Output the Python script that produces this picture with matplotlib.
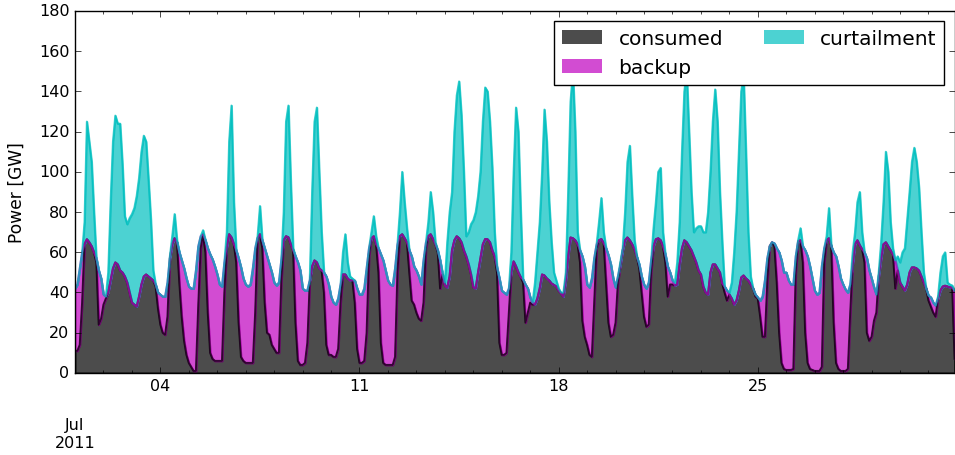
import matplotlib
matplotlib.use("Agg")
import matplotlib.pyplot as plt
import matplotlib.dates as mdates
from matplotlib.patches import Rectangle
from matplotlib.transforms import ScaledTranslation
import numpy as np
import pandas as pd

# 2-hourly values, July 2011 (one row = one day, 00h..22h)
load_gw = [
    42, 44, 52, 60, 64, 66.5, 65, 63, 60, 57, 51, 47,
    39, 38, 40, 46, 52, 55, 54, 51, 50, 48, 45, 40,
    35, 34, 33, 38, 44, 48, 49, 48, 47, 46, 44, 40,
    39, 38, 38, 45, 57, 64, 67, 65, 60, 56, 52, 47,
    43, 42, 42, 51, 63, 68, 69, 66, 62, 59, 56.5, 53,
    49, 44, 43, 55, 62.5, 69, 67.4, 64, 61, 57, 52.5, 47,
    44, 43, 44, 52, 62, 67, 69, 66, 62, 58, 54, 50,
    45, 43.5, 45, 56, 66, 68, 67.5, 64, 61, 58, 55, 51,
    42, 41, 41, 46, 53, 56, 55, 52, 51, 50, 48, 44,
    38, 35, 34, 37, 44, 49, 49, 47, 46, 46, 46, 42,
    39, 39, 42, 52, 62, 67, 68, 64, 62, 59, 56, 51,
    46, 44, 43.5, 52, 64, 68, 69, 67, 65, 61, 58, 53,
    51, 48, 44, 56, 64.8, 68, 69, 66.6, 64, 61, 56, 49,
    43.5, 42.5, 48, 61, 66, 68, 67, 65, 61, 58, 54, 49,
    42.6, 42, 50, 57, 64, 66.6, 66.5, 65, 61, 58, 52.5, 47,
    41, 40, 39, 42, 50, 55.5, 53, 50, 47.6, 46.5, 44, 42,
    37.6, 35, 34, 37, 42, 49, 48.5, 47, 46, 44.5, 43.8, 43,
    41, 39.5, 38, 46, 58, 67.4, 67, 66, 64, 61, 58, 53,
    44, 42.5, 47, 57, 64, 66, 66.6, 64.5, 62, 58.5, 54, 47,
    42.6, 48, 53.5, 61, 66, 67.4, 66, 64, 61.5, 57.5, 54, 48,
    44, 42, 45, 56, 63, 66.5, 67, 66, 63, 59, 53, 50,
    46, 43.5, 44, 54, 62, 66, 65, 63, 61, 58, 55, 51,
    49, 43, 40, 39, 50, 54, 54, 52, 50, 44.5, 43, 41,
    39, 37, 34, 36, 41, 47.5, 48.5, 47, 46, 44, 42, 39,
    37.6, 36, 38, 46, 57, 63, 65, 64.5, 62, 60, 56, 50,
    50, 46, 44, 44, 58, 65.5, 66, 63, 61, 58, 53, 47,
    41, 39, 40, 53, 62, 66, 67, 63, 60, 58, 53, 47,
    44, 41.5, 40, 44, 54, 64, 66, 63.5, 61.5, 60, 57, 51,
    47, 42.6, 39, 48, 57, 64, 65, 63, 61, 59, 56, 51,
    45, 43, 41, 44, 50, 52.5, 52.5, 52, 50.9, 48, 45, 42,
    38.5, 37.6, 35, 33.5, 37, 41, 43, 43.4, 43, 42.6, 42.4, 41,
]

gen_gw = [
    11, 11, 14, 35, 75, 125, 115, 105, 80, 55, 24, 27,
    34, 37, 50, 85, 115, 128, 124, 124, 104, 78, 74, 77,
    79, 82, 88, 97, 110, 118, 115, 96, 76, 51, 43, 32,
    24, 20, 19, 28, 58, 68, 79, 66, 45, 28, 16, 9,
    5, 3, 1, 1, 34, 62, 71, 60, 30, 10, 7, 6,
    6, 6, 6, 40, 70, 115, 133, 85, 55, 25, 8, 6,
    5, 5, 5, 5, 30, 68, 83, 62, 35, 20, 19, 14,
    12, 10, 10, 45, 80, 125, 133, 95, 62, 25, 6, 4,
    4, 5, 15, 45, 90, 125, 132, 100, 70, 40, 14, 9,
    9, 8, 8, 12, 35, 60, 69, 55, 48, 47, 35, 12,
    5, 5, 6, 20, 58, 70, 78, 68, 50, 15, 5, 4,
    4, 4, 4, 8, 50, 80, 100, 85, 72, 50, 36, 34,
    30, 27, 26, 35, 62, 75, 90, 80, 65, 60, 42, 50,
    45, 65, 80, 90, 120, 138, 145, 128, 100, 68, 70, 74,
    76, 80, 88, 100, 125, 142, 140, 125, 102, 70, 50, 15,
    9, 9, 10, 30, 60, 100, 132, 120, 80, 45, 25, 30,
    35, 34, 45, 60, 75, 100, 131, 115, 85, 65, 50, 46,
    42, 40, 40, 50, 90, 135, 150, 120, 70, 55, 26, 18,
    14, 9, 8, 35, 62, 75, 87, 70, 45, 25, 18, 19,
    25, 45, 55, 62, 80, 105, 113, 88, 66, 58, 52, 40,
    28, 23, 24, 50, 72, 85, 100, 102, 70, 55, 38, 44,
    44, 45, 55, 75, 110, 140, 150, 120, 90, 70, 72, 73,
    73, 70, 70, 80, 100, 125, 141, 125, 90, 65, 40, 36,
    40, 45, 60, 80, 110, 140, 148, 110, 70, 48, 42, 38,
    37, 28, 18, 18, 45, 63, 65, 63, 45, 20, 5, 2,
    1.5, 1.5, 1.5, 2, 50, 66, 72, 55, 20, 5, 2, 1.5,
    1, 1, 1, 3, 55, 68, 82, 63, 25, 5, 2, 1,
    1, 1, 2, 30, 60, 70, 85, 90, 70, 55, 20, 16,
    18, 26, 30, 50, 65, 85, 110, 100, 75, 62, 42, 58,
    55, 60, 62, 76, 90, 105, 112, 105, 92, 70, 50, 42,
    36, 33, 30, 28, 38, 50, 58, 60, 45, 44, 43.5, 7,
]

week_ticks = ["2011-07-04", "2011-07-11", "2011-07-18", "2011-07-25"]
week_labels = ["04", "11", "18", "25"]
series_names = ["consumed", "backup", "curtailment"]
series_colors = ["k", "m", "c"]

t = pd.date_range("2011-07-01", periods=len(load_gw), freq="2h")
load = np.array(load_gw, dtype=float)
gen = np.array(gen_gw, dtype=float)

consumed = np.minimum(gen, load)
backup = load - consumed
curtailment = np.maximum(gen - load, 0)

plt.style.use("classic")
plt.rcParams["font.family"] = "DejaVu Sans"

fig = plt.figure(figsize=(9.55, 4.56), dpi=100, facecolor="white")
ax = fig.add_axes([0.0785, 0.18, 0.921, 0.7937])

# stacked areas, drawn the way pandas does it (line, then filled polygon with edge)
a = 0.7
lw = 1.4
bottom = np.zeros_like(load)
for vals, col in zip([consumed, backup, curtailment], series_colors):
    top = bottom + vals
    ax.plot(t, top, color=col, alpha=a, lw=lw)
    ax.fill_between(t, bottom, top, color=col, alpha=a, lw=lw)
    bottom = top

ax.set_xlim(t[0], t[-1])
ax.set_ylim(0, 180)
ax.set_yticks(np.arange(0, 181, 20))
ax.set_ylabel("Power [GW]", fontsize=12.3)
ax.yaxis.set_label_coords(-0.0557, 0.5)

ax.set_xticks([pd.Timestamp("2011-07-01")] + [pd.Timestamp(d) for d in week_ticks])
ax.set_xticklabels(["\n\nJul\n2011"] + week_labels)
ax.xaxis.set_minor_locator(mdates.DayLocator())
ax.tick_params(labelsize=11.5)
lab = ax.get_xticklabels()[0]
lab.set_transform(lab.get_transform() + ScaledTranslation(0, -0.04, fig.dpi_scale_trans))

handles = [Rectangle((0, 0), 1, 1, fc=c, ec="none", alpha=a) for c in series_colors]
ax.legend(handles, series_names, loc="upper right", ncol=2, fontsize=14.5)

fig.savefig("out.png", dpi=100, facecolor="white")
